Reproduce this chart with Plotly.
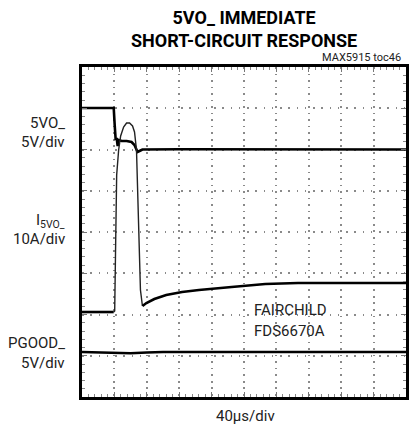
import plotly.graph_objects as go

# Screen units: 10 horizontal divisions (40 us/div), 8 vertical divisions
# 5VO_ output voltage trace (5 V/div)
vout_t = [0.0, 0.979, 1.009, 1.040, 1.070, 1.101, 1.131, 1.223, 1.376, 1.529,
          1.621, 1.713, 1.774, 1.865, 3.0, 5.0, 7.0, 10.0]
vout_v = [7.006, 7.006, 6.594, 6.230, 6.279, 6.085, 6.230, 6.206, 6.206, 6.182,
          6.109, 5.939, 5.964, 6.000, 6.005, 6.000, 6.005, 6.000]

# I5VO_ current trace (10 A/div)
iout_t = [0.0, 0.979, 1.009, 1.040, 1.070, 1.131, 1.193, 1.284, 1.376, 1.468,
          1.560, 1.621, 1.682, 1.743, 1.804, 1.865, 1.988, 2.232, 2.599, 3.089,
          3.609, 4.618, 5.657, 6.667, 8.196, 10.0]
iout_v = [2.060, 2.060, 2.085, 3.806, 5.382, 5.988, 6.327, 6.545, 6.642, 6.642,
          6.570, 6.424, 5.988, 4.291, 2.594, 2.206, 2.279, 2.376, 2.473, 2.545,
          2.594, 2.667, 2.739, 2.764, 2.764, 2.764]
i_fast_start, i_fast_end = 1, 15   # fast transient section drawn with a thin trace

# PGOOD_ trace (5 V/div)
pg_t = [0.0, 0.6, 1.0, 1.5, 2.0, 2.5, 4.0, 6.0, 8.0, 10.0]
pg_v = [1.09, 1.08, 1.07, 1.06, 1.08, 1.09, 1.09, 1.09, 1.09, 1.09]

X_DIVS, Y_DIVS = 10, 8
FONT = "Roboto, Liberation Sans, sans-serif"

fig = go.Figure()

def trace(x, y, w, color="black"):
    fig.add_trace(go.Scatter(x=x, y=y, mode="lines",
                             line=dict(color=color, width=w),
                             hoverinfo="skip", showlegend=False))

trace(vout_t, vout_v, 2.6)
trace(iout_t[:i_fast_start + 1], iout_v[:i_fast_start + 1], 2.6)
trace(iout_t[i_fast_start:i_fast_end + 1], iout_v[i_fast_start:i_fast_end + 1], 1.4, "#222")
trace(iout_t[i_fast_end:], iout_v[i_fast_end:], 2.6)
trace(pg_t, pg_v, 2.6)

axis_common = dict(showline=True, linewidth=3, linecolor="black", mirror="allticks",
                   showticklabels=False, zeroline=False, showgrid=True,
                   gridcolor="#8a8a8a", gridwidth=1.6,
                   ticks="inside", ticklen=5, tickcolor="#777", tickwidth=1,
                   fixedrange=True)

fig.update_xaxes(range=[0, X_DIVS], dtick=1, griddash="1.6px,4.94px",
                 minor=dict(dtick=0.2, ticks="inside", ticklen=3, tickcolor="#888",
                            showgrid=False),
                 **axis_common)
fig.update_yaxes(range=[0, Y_DIVS], dtick=1, griddash="1.6px,6.65px",
                 minor=dict(dtick=0.2, ticks="inside", ticklen=3, tickcolor="#888",
                            showgrid=False),
                 **axis_common)

def label(text, x, y, size=15, xanchor="right", color="#222", align="center"):
    # positions given in screen divisions, placed relative to the plot area
    fig.add_annotation(text=text, x=x / X_DIVS, y=y / Y_DIVS, xref="paper", yref="paper",
                       showarrow=False, xanchor=xanchor, yanchor="middle", align=align,
                       font=dict(family=FONT, size=size, color=color))

# Title
label("<b>5VO_ IMMEDIATE<br>SHORT-CIRCUIT RESPONSE</b>", 5.0, 8.92, size=18,
      xanchor="center", color="black")
label("MAX5915 toc46", 9.9, 8.22, size=11)

# Channel labels
label("5VO_", -0.45, 6.64)
label("5V/div", -0.45, 6.18)
label("I<sub>5VO_</sub>", -0.45, 4.26)
label("10A/div", -0.45, 3.83)
label("PGOOD_", -0.45, 1.31)
label("5V/div", -0.45, 0.83)

# Device note and time base
label("FAIRCHILD", 5.26, 2.10, xanchor="left")
label("FDS6670A", 5.26, 1.60, xanchor="left")
label("40\u00b5s/div", 5.05, -0.47, size=15, xanchor="center")

fig.update_layout(width=411, height=435,
                  margin=dict(l=82, r=2, t=67, b=38),
                  paper_bgcolor="white", plot_bgcolor="white")

fig.write_html("out.html")
